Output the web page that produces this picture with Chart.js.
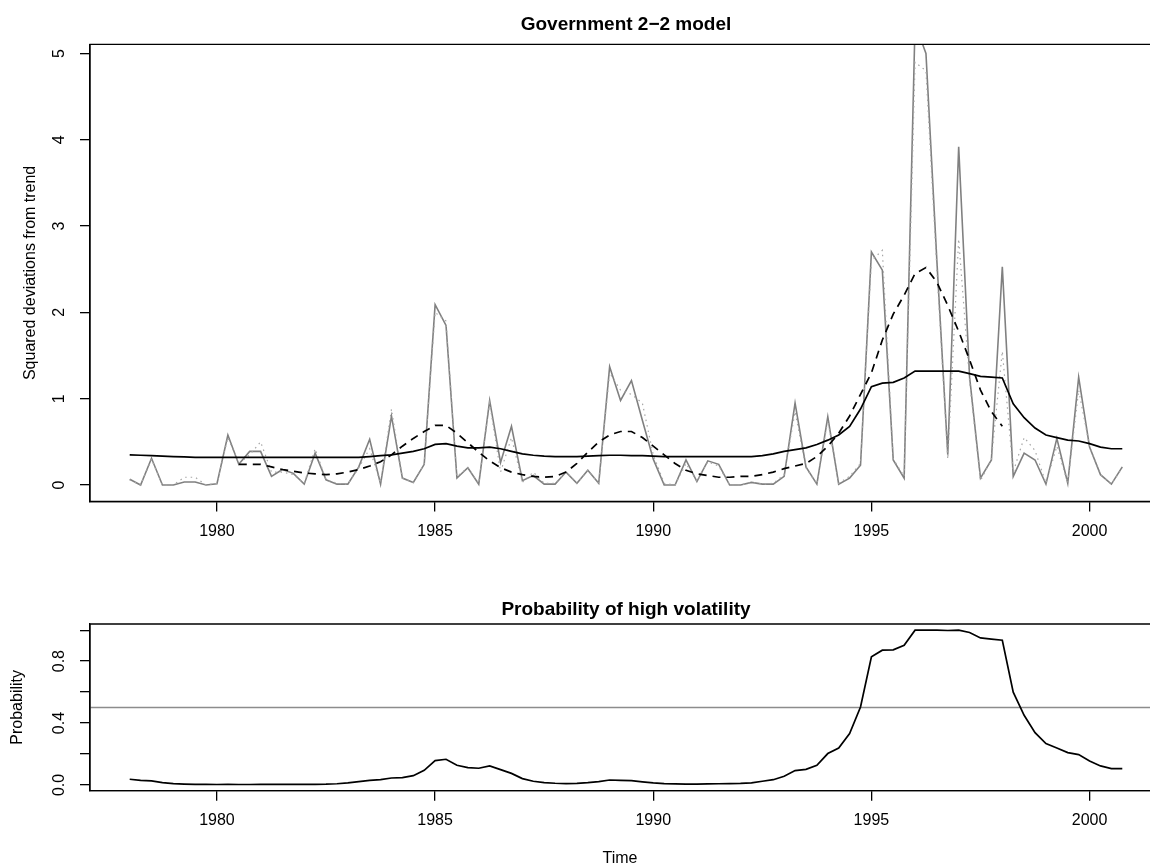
<!DOCTYPE html>
<html><head><meta charset="utf-8">
<script src="https://cdn.jsdelivr.net/npm/chart.js@4/dist/chart.umd.min.js"></script>
<style>
html,body{margin:0;padding:0;background:#fff;overflow:hidden;width:1150px;height:868px;}
#c1{position:absolute;left:0;top:0;}
#c2{position:absolute;left:0;top:560px;}
</style></head><body>
<canvas id="c1" width="1150" height="560"></canvas>
<canvas id="c2" width="1150" height="308"></canvas>
<script>
// ---- data (quarterly, starting 1978 Q1) ----
const startYear = 1978;
const periodsPerYear = 4;
const sqDev = [0.066,0.0,0.31,0.0,0.0,0.035,0.035,0.0,0.015,0.58,
  0.24,0.39,0.39,0.10,0.18,0.135,0.01,0.37,0.06,0.01,
  0.01,0.21,0.53,0.01,0.80,0.08,0.03,0.24,2.09,1.85,
  0.08,0.20,0.01,0.98,0.26,0.68,0.05,0.11,0.01,0.01,
  0.15,0.02,0.17,0.02,1.37,0.98,1.21,0.75,0.30,0.0,
  0.0,0.29,0.04,0.28,0.24,0.0,0.0,0.03,0.01,0.01,
  0.10,0.95,0.21,0.01,0.79,0.01,0.08,0.23,2.70,2.49,
  0.29,0.08,5.35,5.00,2.60,0.35,3.92,1.25,0.08,0.29,
  2.53,0.10,0.37,0.29,0.01,0.54,0.02,1.25,0.44,0.12,
  0.01,0.21];
const sqDevAlt = [0.06,0.0,0.30,0.0,0.0,0.09,0.09,0.0,0.02,0.55,
  0.25,0.35,0.50,0.15,0.15,0.12,0.02,0.42,0.06,0.02,
  0.01,0.20,0.42,0.02,0.88,0.08,0.03,0.24,2.00,1.90,
  0.10,0.20,0.02,0.95,0.15,0.55,0.03,0.15,0.02,0.02,
  0.15,0.02,0.17,0.02,1.30,1.10,1.05,0.95,0.35,0.02,
  0.0,0.25,0.04,0.27,0.22,0.0,0.0,0.03,0.01,0.02,
  0.12,0.85,0.20,0.01,0.75,0.02,0.10,0.25,2.60,2.72,
  0.30,0.10,4.90,4.80,2.50,0.30,2.85,1.20,0.05,0.30,
  1.55,0.15,0.55,0.40,0.02,0.45,0.02,1.10,0.45,0.12,
  0.01,0.20];
const volDashed = [null,null,null,null,null,null,null,null,null,null,
  0.24,0.24,0.24,0.21,0.18,0.16,0.14,0.13,0.12,0.13,
  0.15,0.18,0.22,0.27,0.35,0.45,0.54,0.62,0.69,0.69,
  0.60,0.49,0.38,0.28,0.20,0.15,0.12,0.10,0.09,0.10,
  0.15,0.25,0.38,0.50,0.58,0.62,0.62,0.55,0.45,0.35,
  0.25,0.17,0.13,0.11,0.09,0.09,0.10,0.10,0.12,0.15,
  0.19,0.22,0.25,0.33,0.45,0.60,0.80,1.05,1.30,1.68,
  1.98,2.20,2.45,2.52,2.35,2.08,1.78,1.45,1.10,0.85,
  0.68,null,null,null,null,null,null,null,null,null,
  null,null];
const volSmooth = [0.35,0.345,0.34,0.335,0.33,0.325,0.32,0.32,0.32,0.32,
  0.32,0.32,0.32,0.32,0.32,0.32,0.32,0.32,0.32,0.32,
  0.32,0.32,0.33,0.34,0.35,0.37,0.39,0.42,0.47,0.48,
  0.45,0.43,0.43,0.44,0.42,0.39,0.36,0.345,0.335,0.33,
  0.33,0.33,0.335,0.34,0.345,0.345,0.34,0.34,0.335,0.33,
  0.33,0.33,0.33,0.33,0.33,0.33,0.33,0.33,0.34,0.36,
  0.39,0.41,0.43,0.47,0.52,0.58,0.68,0.88,1.14,1.18,
  1.19,1.24,1.32,1.32,1.32,1.32,1.32,1.29,1.26,1.25,
  1.24,0.94,0.78,0.66,0.58,0.55,0.52,0.51,0.48,0.44,
  0.42,0.42];
const probHigh = [0.037,0.030,0.026,0.015,0.009,0.006,0.004,0.004,0.003,0.004,
  0.003,0.003,0.004,0.004,0.004,0.004,0.004,0.004,0.005,0.008,
  0.013,0.022,0.030,0.034,0.045,0.047,0.060,0.095,0.157,0.166,
  0.127,0.112,0.108,0.123,0.099,0.075,0.041,0.024,0.015,0.011,
  0.009,0.010,0.015,0.022,0.032,0.030,0.028,0.020,0.013,0.009,
  0.007,0.006,0.006,0.007,0.008,0.009,0.010,0.013,0.024,0.034,
  0.056,0.093,0.101,0.127,0.203,0.239,0.332,0.504,0.828,0.871,
  0.873,0.903,1.000,1.000,1.000,0.998,1.000,0.985,0.950,0.942,
  0.935,0.600,0.450,0.338,0.267,0.239,0.209,0.196,0.155,0.123,
  0.106,0.106];
const threshold = 0.5;
const xTicks = [1980,1985,1990,1995,2000];
const yTicksTop = [0,1,2,3,4,5];
const yLabelsTop = ['0','1','2','3','4','5'];
const yTicksBot = [0,0.2,0.4,0.6,0.8,1.0];
const yLabelsBot = ['0.0','','0.4','','0.8',''];
const topTitle = 'Government 2\u22122 model';
const botTitle = 'Probability of high volatility';

// ---- helpers ----
const toPts = arr => arr.map((v,i)=>({x: startYear + i/periodsPerYear, y: v}));
const FONT = '"Liberation Sans", Arial, Helvetica, sans-serif';
const nQ = sqDev.length;
const dataMin = startYear, dataMax = startYear + (nQ-1)/periodsPerYear;
const ext = 0.04*(dataMax-dataMin);
const xMinR = dataMin - ext, xMaxR = dataMax + ext;   // R-style range (right edge beyond page)
const plotLeft = 90, rightEdgeR = 1162, canvasW = 1150;
const xMaxVisible = xMinR + (xMaxR - xMinR) * (canvasW - plotLeft) / (rightEdgeR - plotLeft);

function panelPlugin(title, titleY, yLabels, yLabelX) {
  return {
    id: 'panel',
    afterDraw(chart) {
      const {ctx, chartArea: a, scales: {x, y}} = chart;
      ctx.save();
      ctx.strokeStyle = '#000'; ctx.lineWidth = 1.3;
      ctx.beginPath();
      ctx.moveTo(a.right + 20, a.top); ctx.lineTo(a.left, a.top);
      ctx.lineTo(a.left, a.bottom); ctx.lineTo(a.right + 20, a.bottom);
      ctx.stroke();
      ctx.fillStyle = '#000';
      ctx.textAlign = 'center'; ctx.textBaseline = 'middle';
      ctx.font = 'bold 19px ' + FONT;
      const cx = x.getPixelForValue((xMinR + xMaxR) / 2);
      ctx.fillText(title, cx, titleY);
      ctx.font = '16px ' + FONT;
      y.ticks.forEach((t, i) => {
        const lab = yLabels[i];
        if (!lab) return;
        const py = y.getPixelForValue(t.value);
        ctx.save(); ctx.translate(yLabelX, py); ctx.rotate(-Math.PI/2);
        ctx.fillText(lab, 0, 0); ctx.restore();
      });
      ctx.restore();
    }
  };
}

function xScale(showTitle) {
  return {
    type: 'linear', min: xMinR, max: xMaxVisible,
    afterBuildTicks: s => { s.ticks = xTicks.map(v => ({value: v})); },
    afterFit: s => { s.height = showTitle ? 77.3 : 58.5; },
    ticks: { color: '#000', font: {size: 16, family: FONT}, padding: 10, maxRotation: 0, autoSkip: false,
             callback: v => String(v) },
    grid: { drawOnChartArea: false, drawTicks: true, tickLength: 10, color: '#000', lineWidth: 1.3 },
    border: { display: true, color: '#000', width: 1.3 },
    title: { display: showTitle, text: 'Time', color: '#000', font: {size: 16, family: FONT}, padding: {top: 2, bottom: 0} }
  };
}
function yScale(min, max, ticks, titleText, titlePad) {
  return {
    type: 'linear', min: min, max: max,
    afterBuildTicks: s => { s.ticks = ticks.map(v => ({value: v})); },
    afterFit: s => { s.width = plotLeft; },
    ticks: { display: false },
    grid: { drawOnChartArea: false, drawTicks: true, tickLength: 10, color: '#000', lineWidth: 1.3 },
    border: { display: true, color: '#000', width: 1.3 },
    title: { display: true, text: titleText, color: '#000', font: {size: 16, family: FONT}, padding: {top: titlePad, bottom: 0} }
  };
}
const common = { responsive: false, animation: false, events: [],
  plugins: { legend: {display: false}, tooltip: {enabled: false}, title: {display: false} },
  elements: { point: {radius: 0}, line: {tension: 0} } };

new Chart(document.getElementById('c1'), {
  type: 'line',
  data: { datasets: [
    { data: toPts(sqDev), borderColor: '#808080', borderWidth: 1.6, order: 4 },
    { data: toPts(sqDevAlt), borderColor: '#a6a6a6', borderWidth: 1.2, borderDash: [1.5, 4], order: 3 },
    { data: toPts(volDashed), borderColor: '#000', borderWidth: 1.7, borderDash: [8, 6], spanGaps: false, order: 2 },
    { data: toPts(volSmooth), borderColor: '#000', borderWidth: 1.7, order: 1 }
  ]},
  options: Object.assign({}, common, {
    layout: { padding: {top: 44.3, left: 0, right: 0, bottom: 0} },
    scales: { x: xScale(false), y: yScale(-0.191, 5.107, yTicksTop, 'Squared deviations from trend', 21) }
  }),
  plugins: [panelPlugin(topTitle, 25, yLabelsTop, 60)]
});

new Chart(document.getElementById('c2'), {
  type: 'line',
  data: { datasets: [
    { data: [{x: xMinR, y: threshold}, {x: xMaxVisible, y: threshold}], borderColor: '#8c8c8c', borderWidth: 1.5, order: 2 },
    { data: toPts(probHigh), borderColor: '#000', borderWidth: 1.7, order: 1 }
  ]},
  options: Object.assign({}, common, {
    layout: { padding: {top: 64, left: 0, right: 0, bottom: 0} },
    scales: { x: xScale(true), y: yScale(-0.037, 1.04, yTicksBot, 'Probability', 8) }
  }),
  plugins: [panelPlugin(botTitle, 50, yLabelsBot, 60)]
});
</script>
</body></html>
